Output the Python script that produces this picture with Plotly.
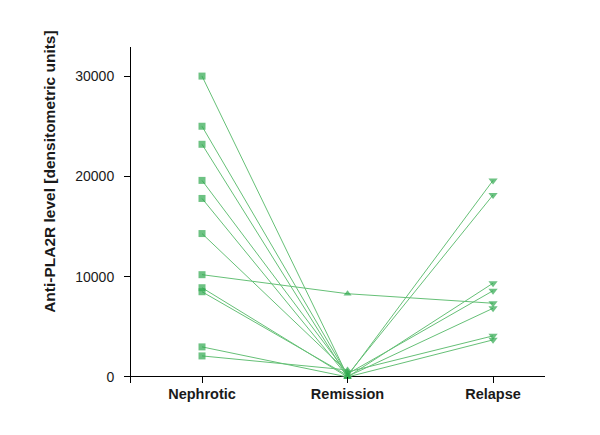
import plotly.graph_objects as go

categories = ["Nephrotic", "Remission", "Relapse"]
nephrotic = [30000, 25000, 23200, 19600, 17800, 14300, 10200, 8900, 8500, 3000, 2100]
remission = [100, 200, 0, 300, 50, 500, 8300, 0, 150, 0, 700]
relapse = [19600, 18150, 9350, 8600, 6850, 4100, 7350, 3700, None, None, None]
y_ticks = [0, 10000, 20000, 30000]

marker_color = "#2fa84f"
line_color = "#66c077"
symbols = ["square", "triangle-up", "triangle-down"]
sizes = [7, 7, 8]

fig = go.Figure()
for i in range(len(nephrotic)):
    ys = [nephrotic[i], remission[i], relapse[i]]
    xs = [0, 1, 2]
    if relapse[i] is None:
        xs, ys = xs[:2], ys[:2]
    fig.add_trace(go.Scatter(
        x=xs, y=ys, mode="lines+markers",
        line=dict(color=line_color, width=1),
        marker=dict(symbol=symbols[:len(xs)], size=sizes[:len(xs)], color=marker_color,
                    line=dict(width=0)),
        showlegend=False, hoverinfo="skip",
    ))

fig.update_layout(
    width=600, height=435,
    margin=dict(l=123, r=63, t=39, b=60),
    paper_bgcolor="white", plot_bgcolor="white",
    font=dict(family="Liberation Sans, Arial, sans-serif", size=13, color="#1a1a1a"),
    showlegend=False,
)
fig.update_xaxes(
    range=[-0.488, 2.357], tickvals=[0, 1, 2],
    ticktext=["<b>%s</b>" % c for c in categories],
    ticks="inside", ticklen=6, tickcolor="black", tickwidth=1,
    showline=False, showgrid=False, zeroline=False,
    tickfont=dict(size=14.5, color="#1a1a1a"),
)
fig.update_yaxes(
    range=[-600, 32900], tickvals=y_ticks, ticktext=[str(v) for v in y_ticks],
    ticks="outside", ticklen=6, tickcolor="black", tickwidth=1,
    showline=True, linecolor="black", linewidth=1,
    showgrid=False, zeroline=True, zerolinecolor="black", zerolinewidth=1,
    tickfont=dict(size=14, color="#1a1a1a"), ticklabelstandoff=7,
)
fig.add_annotation(
    text="<b>Anti-PLA2R level [densitometric units]</b>",
    xref="paper", yref="paper", x=-0.196, y=0.628,
    textangle=-90, showarrow=False, xanchor="center", yanchor="middle",
    font=dict(size=15.5, color="#1a1a1a"),
)
fig.write_html("out.html")
